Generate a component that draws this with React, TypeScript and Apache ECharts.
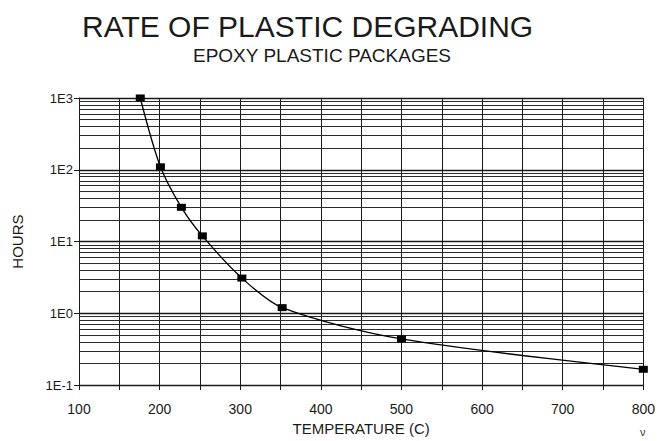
import React, { useEffect, useRef } from "react";
import * as echarts from "echarts";

const temperatures = [176, 201, 227, 253, 302, 352, 500, 800];
const hours = [1000, 110, 30, 12, 3.1, 1.2, 0.44, 0.166];
const yTickLabels = ["1E-1", "1E0", "1E1", "1E2", "1E3"];
const xTickLabels = ["100", "200", "300", "400", "500", "600", "700", "800"];
const decades = [0.1, 1, 10, 100];
const minorMultipliers = [2, 3, 4, 5, 6, 7, 8, 9];

const FONT = "Liberation Sans, Arial, Helvetica, sans-serif";
const INK = "#1a1a1a";

export default function App() {
  const ref = useRef<HTMLDivElement>(null);

  useEffect(() => {
    if (!ref.current) return;
    const chart = echarts.init(ref.current, null, { renderer: "svg" });

    const minorLines: any[] = [];
    decades.forEach((d) => {
      minorMultipliers.forEach((m) => {
        minorLines.push({ yAxis: +(d * m).toPrecision(6) });
      });
    });

    const option: any = {
      animation: false,
      backgroundColor: "#ffffff",
      title: [
        {
          text: "RATE OF PLASTIC DEGRADING",
          left: 82,
          top: 11,
          padding: 0,
          textStyle: { fontFamily: FONT, fontSize: 30, fontWeight: "normal", color: INK },
        },
        {
          text: "EPOXY PLASTIC PACKAGES",
          left: 193,
          top: 46,
          padding: 0,
          textStyle: { fontFamily: FONT, fontSize: 19, fontWeight: "normal", color: INK },
        },
      ],
      graphic: [
        {
          type: "text",
          left: 640,
          top: 426,
          style: { text: "ν", fontFamily: FONT, fontSize: 11, fill: "#333" },
        },
      ],
      grid: { left: 79, right: 10, top: 98, bottom: 51, containLabel: false },
      xAxis: {
        type: "value",
        min: 100,
        max: 800,
        interval: 100,
        name: "TEMPERATURE (C)",
        nameLocation: "middle",
        nameGap: 33,
        nameTextStyle: { fontFamily: FONT, fontSize: 15, color: INK },
        axisLine: { show: true, lineStyle: { color: INK, width: 1 } },
        axisTick: { show: true, inside: false, length: 5, lineStyle: { color: INK } },
        minorTick: { show: true, splitNumber: 2, length: 5, lineStyle: { color: INK } },
        axisLabel: {
          fontFamily: FONT,
          fontSize: 14,
          color: INK,
          margin: 17,
          formatter: (v: number) => xTickLabels[Math.round((v - 100) / 100)] ?? "",
        },
        splitLine: { show: true, lineStyle: { color: INK, width: 1 } },
        minorSplitLine: { show: true, lineStyle: { color: INK, width: 1 } },
      },
      yAxis: {
        type: "log",
        logBase: 10,
        min: 0.1,
        max: 1000,
        name: "HOURS",
        nameLocation: "middle",
        nameGap: 54,
        nameRotate: 90,
        nameTextStyle: { fontFamily: FONT, fontSize: 15, color: INK },
        axisLine: { show: true, lineStyle: { color: INK, width: 1 } },
        axisTick: { show: true, inside: false, length: 5, lineStyle: { color: INK } },
        axisLabel: {
          fontFamily: FONT,
          fontSize: 13,
          color: INK,
          margin: 6,
          formatter: (v: number) => yTickLabels[Math.round(Math.log10(v)) + 1] ?? "",
        },
        splitLine: { show: true, lineStyle: { color: INK, width: 1.3 } },
      },
      series: [
        {
          type: "line",
          data: temperatures.map((t, i) => [t, hours[i]]),
          smooth: 0.3,
          symbol: "rect",
          symbolSize: [9, 7],
          itemStyle: { color: "#000" },
          lineStyle: { color: "#000", width: 1.3 },
          z: 5,
          markLine: {
            silent: true,
            symbol: ["none", "none"],
            label: { show: false },
            lineStyle: { color: "#2a2a2a", width: 1, type: "solid" },
            emphasis: { disabled: true },
            data: minorLines,
          },
        },
      ],
    };

    chart.setOption(option);
    return () => chart.dispose();
  }, []);

  return (
    <div
      ref={ref}
      style={{ position: "fixed", left: 0, top: 0, width: 658, height: 441, background: "#fff" }}
    />
  );
}
